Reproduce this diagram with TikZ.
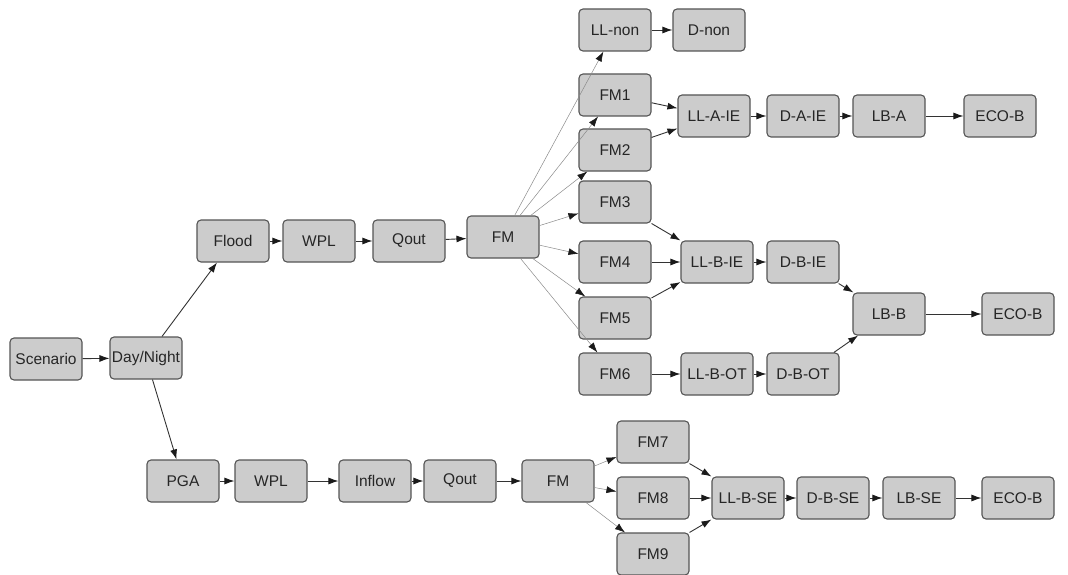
\documentclass[tikz,border=0pt]{standalone}
\usepackage{fontspec}
\setmainfont{Liberation Sans}
\usetikzlibrary{arrows.meta}
\definecolor{boxfill}{HTML}{CCCCCC}
\definecolor{boxline}{HTML}{555555}
\definecolor{thinline}{HTML}{8A8A8A}
\definecolor{tipcol}{HTML}{1A1A1A}
\begin{document}
\begin{tikzpicture}[x=1pt,y=-1pt,
  box/.style={draw=boxline,fill=boxfill,line width=1.1pt,rounded corners=4pt,
    minimum width=72pt,minimum height=42pt,inner sep=0pt,
    font=\fontsize{15.5}{18}\selectfont,text=black!85},
  link/.style={draw=black!80,line width=0.9pt,-{Latex[length=10pt,width=7pt,color=tipcol]}},
  faint/.style={draw=thinline,line width=0.5pt,-{Latex[length=10pt,width=7pt,color=tipcol]}}]
\useasboundingbox (0,0) rectangle (1068,575);

% source and first split
\node[box] (scen) at (46,359) {Scenario};
\node[box] (dn) at (146,358) {Day/Night};

% flood branch
\node[box] (flood) at (233,241) {Flood};
\node[box] (wpla) at (319,241) {WPL};
\node[box] (qouta) at (409,241) {Qout};
\node[box] (fma) at (503,237) {FM};

\node[box] (llnon) at (615,30) {LL-non};
\node[box] (dnon) at (709,30) {D-non};
\node[box] (fm1) at (615,95) {FM1};
\node[box] (fm2) at (615,150) {FM2};
\node[box] (fm3) at (615,202) {FM3};
\node[box] (fm4) at (615,262) {FM4};
\node[box] (fm5) at (615,318) {FM5};
\node[box] (fm6) at (615,374) {FM6};

\node[box] (llaie) at (714,116) {LL-A-IE};
\node[box] (daie) at (803,116) {D-A-IE};
\node[box] (lba) at (889,116) {LB-A};
\node[box] (ecoa) at (1000,116) {ECO-B};

\node[box] (llbie) at (717,262) {LL-B-IE};
\node[box] (dbie) at (803,262) {D-B-IE};
\node[box] (llbot) at (717,374) {LL-B-OT};
\node[box] (dbot) at (803,374) {D-B-OT};
\node[box] (lbb) at (889,314) {LB-B};
\node[box] (ecob) at (1018,314) {ECO-B};

% earthquake branch
\node[box] (pga) at (183,481) {PGA};
\node[box] (wplb) at (271,481) {WPL};
\node[box] (inflow) at (375,481) {Inflow};
\node[box] (qoutb) at (460,481) {Qout};
\node[box] (fmb) at (558,481) {FM};
\node[box] (fm7) at (653,442) {FM7};
\node[box] (fm8) at (653,498) {FM8};
\node[box] (fm9) at (653,554) {FM9};
\node[box] (llbse) at (748,498) {LL-B-SE};
\node[box] (dbse) at (833,498) {D-B-SE};
\node[box] (lbse) at (919,498) {LB-SE};
\node[box] (ecoc) at (1018,498) {ECO-B};

% connectors
\draw[link] (scen) -- (dn);
\draw[link] (dn) -- (flood);
\draw[link] (dn) -- (pga);

\draw[link] (flood) -- (wpla);
\draw[link] (wpla) -- (qouta);
\draw[link] (qouta) -- (fma);
\foreach \t in {llnon,fm1,fm2,fm3,fm4,fm5,fm6}
  \draw[faint] (fma) -- (\t);

\draw[link] (llnon) -- (dnon);
\draw[link] (fm1) -- (llaie);
\draw[link] (fm2) -- (llaie);
\draw[link] (llaie) -- (daie);
\draw[link] (daie) -- (lba);
\draw[link] (lba) -- (ecoa);

\draw[link] (fm3) -- (llbie);
\draw[link] (fm4) -- (llbie);
\draw[link] (fm5) -- (llbie);
\draw[link] (llbie) -- (dbie);
\draw[link] (fm6) -- (llbot);
\draw[link] (llbot) -- (dbot);
\draw[link] (dbie) -- (lbb);
\draw[link] (dbot) -- (lbb);
\draw[link] (lbb) -- (ecob);

\draw[link] (pga) -- (wplb);
\draw[link] (wplb) -- (inflow);
\draw[link] (inflow) -- (qoutb);
\draw[link] (qoutb) -- (fmb);
\foreach \t in {fm7,fm8,fm9}
  \draw[faint] (fmb) -- (\t);
\draw[link] (fm7) -- (llbse);
\draw[link] (fm8) -- (llbse);
\draw[link] (fm9) -- (llbse);
\draw[link] (llbse) -- (dbse);
\draw[link] (dbse) -- (lbse);
\draw[link] (lbse) -- (ecoc);
\end{tikzpicture}
\end{document}
